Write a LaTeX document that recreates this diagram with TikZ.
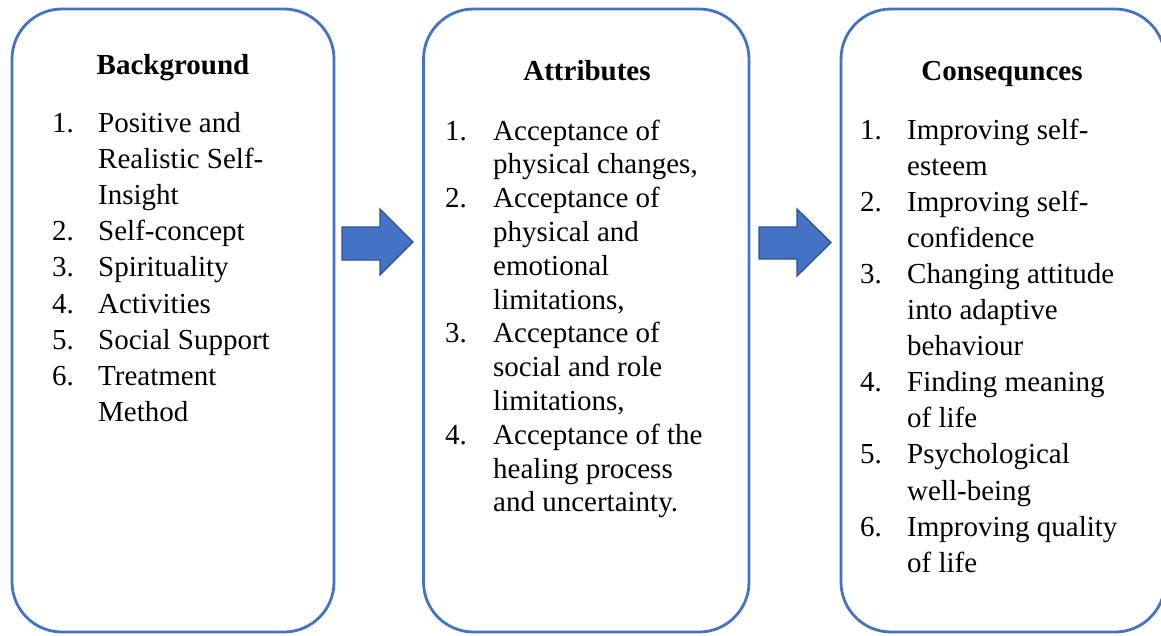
\documentclass[tikz,border=0pt]{standalone}
\usepackage{fontspec}
\setmainfont{Liberation Serif}
\definecolor{boxblue}{HTML}{4472C4}
\definecolor{arrowedge}{HTML}{2F528F}
\newcommand\txtline[4]{\node[txt,anchor=base west] (#1) at (#2,#3) {#4};}
\begin{document}
\begin{tikzpicture}[x=1pt,y=-1pt,
  box/.style={draw=boxblue,line width=2.8pt,rounded corners=50pt,fill=white,inner sep=0pt},
  txt/.style={inner sep=0pt,font=\fontsize{29}{36}\selectfont},
  ttl/.style={inner sep=0pt,font=\fontsize{29}{36}\selectfont\bfseries,anchor=base},
  blockarrow/.style={fill=boxblue,draw=arrowedge,line width=1.3pt,line join=miter}]
\useasboundingbox (0,0) rectangle (1161,635);
\clip (0,0) rectangle (1161,635);
\fill[white] (0,0) rectangle (1161,635);
% boxes
\node[box,minimum width=322pt,minimum height=623pt] (b1) at (173,320.5) {};
\node[box,minimum width=325.5pt,minimum height=623pt] (b2) at (586.25,320.5) {};
\node[box,minimum width=324pt,minimum height=623pt] (b3) at (1003,320.5) {};
% arrows
\coordinate (a1s) at (342,243.5);
\coordinate (a2s) at (759,243);
\draw[blockarrow] (a1s) ++(0,-16.5) -- ++(38,0) -- ++(0,-18) -- (413,242) -- (380,275) -- (380,260) -- (342,260) -- cycle;
\draw[blockarrow] (a2s) ++(0,-16) -- ++(38,0) -- ++(0,-18) -- (831,242.5) -- (797,276) -- (797,259) -- (759,259) -- cycle;
% titles
\node[ttl] (t1) at (173,74) {Background};
\node[ttl] (t2) at (587,80) {Attributes};
\node[ttl] (t3) at (1002,80) {Consequnces};
% box 1
\txtline{n11}{52}{132}{1.}
\txtline{l11}{98}{132}{Positive and}
\txtline{l12}{98}{168.2}{Realistic Self-}
\txtline{l13}{98}{204.4}{Insight}
\txtline{n12}{52}{240.6}{2.}
\txtline{l14}{98}{240.6}{Self-concept}
\txtline{n13}{52}{276.8}{3.}
\txtline{l15}{98}{276.8}{Spirituality}
\txtline{n14}{52}{313}{4.}
\txtline{l16}{98}{313}{Activities}
\txtline{n15}{52}{349.2}{5.}
\txtline{l17}{98}{349.2}{Social Support}
\txtline{n16}{52}{385.4}{6.}
\txtline{l18}{98}{385.4}{Treatment}
\txtline{l19}{98}{421.6}{Method}
% box 2
\txtline{n21}{445}{140}{1.}
\txtline{l21}{493}{140}{Acceptance of}
\txtline{l22}{493}{173.8}{physical changes,}
\txtline{n22}{445}{207.6}{2.}
\txtline{l23}{493}{207.6}{Acceptance of}
\txtline{l24}{493}{241.4}{physical and}
\txtline{l25}{493}{275.2}{emotional}
\txtline{l26}{493}{309}{limitations,}
\txtline{n23}{445}{342.8}{3.}
\txtline{l27}{493}{342.8}{Acceptance of}
\txtline{l28}{493}{376.6}{social and role}
\txtline{l29}{493}{410.4}{limitations,}
\txtline{n24}{445}{444.2}{4.}
\txtline{l210}{493}{444.2}{Acceptance of the}
\txtline{l211}{493}{478}{healing process}
\txtline{l212}{493}{511.8}{and uncertainty.}
% box 3
\txtline{n31}{860}{139}{1.}
\txtline{l31}{907}{139}{Improving self-}
\txtline{l32}{907}{175.1}{esteem}
\txtline{n32}{860}{211.2}{2.}
\txtline{l33}{907}{211.2}{Improving self-}
\txtline{l34}{907}{247.3}{confidence}
\txtline{n33}{860}{283.4}{3.}
\txtline{l35}{907}{283.4}{Changing attitude}
\txtline{l36}{907}{319.5}{into adaptive}
\txtline{l37}{907}{355.6}{behaviour}
\txtline{n34}{860}{391.7}{4.}
\txtline{l38}{907}{391.7}{Finding meaning}
\txtline{l39}{907}{427.8}{of life}
\txtline{n35}{860}{463.9}{5.}
\txtline{l310}{907}{463.9}{Psychological}
\txtline{l311}{907}{500}{well-being}
\txtline{n36}{860}{536.1}{6.}
\txtline{l312}{907}{536.1}{Improving quality}
\txtline{l313}{907}{572.2}{of life}
\end{tikzpicture}
\end{document}
